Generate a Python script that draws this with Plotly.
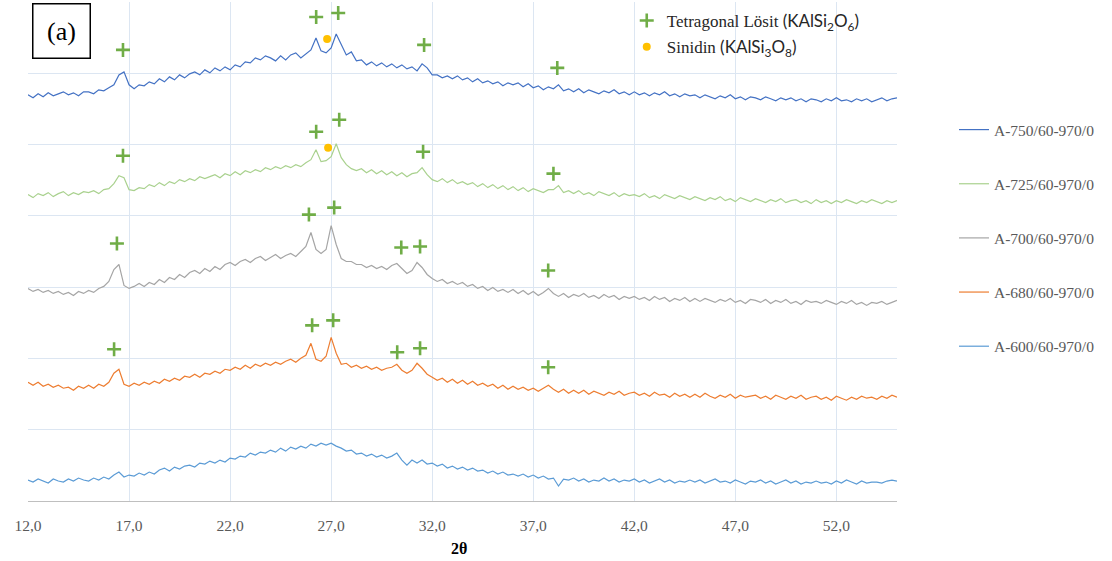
import plotly.graph_objects as go

# 2-theta sampling (degrees), 0.25 deg step, one row = 3 degrees
two_theta = [
    12.00, 12.25, 12.50, 12.75, 13.00, 13.25, 13.50, 13.75, 14.00, 14.25, 14.50, 14.75,
    15.00, 15.25, 15.50, 15.75, 16.00, 16.25, 16.50, 16.75, 17.00, 17.25, 17.50, 17.75,
    18.00, 18.25, 18.50, 18.75, 19.00, 19.25, 19.50, 19.75, 20.00, 20.25, 20.50, 20.75,
    21.00, 21.25, 21.50, 21.75, 22.00, 22.25, 22.50, 22.75, 23.00, 23.25, 23.50, 23.75,
    24.00, 24.25, 24.50, 24.75, 25.00, 25.25, 25.50, 25.75, 26.00, 26.25, 26.50, 26.75,
    27.00, 27.25, 27.50, 27.75, 28.00, 28.25, 28.50, 28.75, 29.00, 29.25, 29.50, 29.75,
    30.00, 30.25, 30.50, 30.75, 31.00, 31.25, 31.50, 31.75, 32.00, 32.25, 32.50, 32.75,
    33.00, 33.25, 33.50, 33.75, 34.00, 34.25, 34.50, 34.75, 35.00, 35.25, 35.50, 35.75,
    36.00, 36.25, 36.50, 36.75, 37.00, 37.25, 37.50, 37.75, 38.00, 38.25, 38.50, 38.75,
    39.00, 39.25, 39.50, 39.75, 40.00, 40.25, 40.50, 40.75, 41.00, 41.25, 41.50, 41.75,
    42.00, 42.25, 42.50, 42.75, 43.00, 43.25, 43.50, 43.75, 44.00, 44.25, 44.50, 44.75,
    45.00, 45.25, 45.50, 45.75, 46.00, 46.25, 46.50, 46.75, 47.00, 47.25, 47.50, 47.75,
    48.00, 48.25, 48.50, 48.75, 49.00, 49.25, 49.50, 49.75, 50.00, 50.25, 50.50, 50.75,
    51.00, 51.25, 51.50, 51.75, 52.00, 52.25, 52.50, 52.75, 53.00, 53.25, 53.50, 53.75,
    54.00, 54.25, 54.50, 54.75, 55.00,
]

# intensities (a.u., stacked with offsets as in the original figure)
a750 = [
    407, 404, 408, 405, 409, 406, 408, 410, 407, 409, 406, 410,
    410, 408, 412, 411, 414, 417, 427, 430, 417, 413, 417, 416,
    420, 418, 423, 420, 425, 422, 427, 424, 428, 430, 427, 432,
    429, 434, 431, 435, 432, 437, 435, 440, 439, 444, 442, 446,
    444, 441, 446, 442, 447, 449, 444, 448, 452, 464, 451, 449,
    454, 468, 457, 447, 450, 441, 442, 437, 440, 436, 439, 435,
    438, 434, 437, 433, 435, 431, 438, 434, 427, 427, 424, 426,
    423, 426, 422, 424, 420, 423, 419, 421, 418, 420, 416, 419,
    417, 419, 415, 418, 414, 416, 412, 415, 413, 417, 411, 413,
    410, 413, 409, 412, 410, 408, 411, 409, 412, 408, 410, 407,
    410, 407, 409, 406, 409, 407, 410, 406, 408, 405, 408, 406,
    407, 404, 407, 405, 403, 406, 404, 407, 403, 405, 402, 405,
    404, 402, 405, 403, 401, 404, 402, 404, 401, 403, 400, 403,
    402, 400, 403, 401, 404, 401, 402, 400, 403, 401, 403, 400,
    402, 404, 401, 403, 404,
]
a725 = [
    307, 304, 308, 306, 309, 305, 308, 310, 306, 309, 307, 310,
    309, 311, 308, 312, 313, 318, 326, 324, 312, 311, 314, 313,
    317, 315, 319, 316, 320, 318, 322, 320, 323, 321, 325, 323,
    325, 327, 324, 328, 326, 330, 327, 331, 329, 332, 330, 334,
    332, 335, 333, 336, 334, 337, 335, 339, 342, 352, 340, 341,
    345, 358, 344, 337, 333, 331, 333, 329, 332, 328, 331, 327,
    330, 326, 329, 325, 328, 329, 334, 327, 322, 320, 323, 319,
    322, 318, 320, 317, 319, 315, 318, 314, 317, 313, 316, 312,
    315, 311, 314, 310, 313, 311, 309, 312, 312, 316, 309, 311,
    308, 311, 307, 309, 306, 310, 308, 306, 309, 305, 308, 306,
    307, 305, 308, 304, 306, 303, 307, 305, 303, 306, 304, 302,
    305, 303, 301, 304, 302, 305, 301, 303, 300, 304, 302, 300,
    303, 301, 299, 302, 300, 303, 299, 301, 302, 299, 301, 298,
    302, 299, 301, 298, 301, 299, 302, 300, 298, 301, 299, 302,
    300, 298, 301, 299, 301,
]
a700 = [
    213, 210, 212, 209, 211, 208, 210, 207, 209, 206, 210, 208,
    211, 209, 213, 215, 220, 232, 237, 216, 213, 215, 218, 215,
    219, 217, 222, 219, 224, 222, 227, 224, 229, 231, 228, 233,
    230, 235, 232, 237, 239, 236, 240, 242, 239, 243, 245, 241,
    244, 247, 243, 246, 248, 245, 250, 255, 269, 252, 248, 252,
    276, 257, 243, 240, 240, 237, 237, 234, 236, 233, 235, 232,
    236, 238, 233, 228, 231, 239, 234, 227, 223, 220, 222, 218,
    220, 217, 219, 215, 217, 213, 215, 211, 214, 210, 212, 209,
    212, 208, 211, 207, 210, 206, 209, 213, 208, 205, 208, 204,
    207, 205, 208, 204, 206, 203, 207, 204, 206, 202, 205, 203,
    205, 202, 204, 201, 205, 202, 204, 200, 203, 201, 204, 200,
    203, 200, 203, 201, 199, 202, 200, 203, 199, 201, 198, 202,
    201, 199, 202, 198, 201, 199, 202, 198, 200, 197, 201, 199,
    200, 198, 201, 199, 197, 200, 198, 201, 197, 199, 196, 199,
    198, 200, 197, 199, 201,
]
a680 = [
    119, 116, 119, 115, 117, 114, 116, 113, 114, 111, 115, 113,
    116, 113, 117, 115, 119, 128, 132, 117, 115, 118, 116, 119,
    117, 120, 118, 122, 120, 123, 121, 125, 124, 127, 124, 128,
    127, 130, 128, 132, 131, 134, 132, 136, 133, 137, 135, 138,
    136, 139, 137, 140, 142, 139, 143, 146, 158, 142, 140, 145,
    164, 148, 137, 138, 134, 136, 133, 135, 132, 134, 131, 133,
    134, 137, 131, 128, 131, 138, 133, 127, 124, 121, 123, 119,
    122, 118, 121, 117, 120, 116, 118, 115, 117, 113, 116, 112,
    115, 112, 114, 111, 113, 110, 113, 116, 112, 109, 112, 108,
    111, 108, 111, 107, 110, 108, 106, 109, 107, 110, 106, 108,
    109, 106, 108, 105, 109, 106, 107, 104, 108, 105, 107, 104,
    107, 104, 108, 105, 103, 106, 104, 107, 103, 106, 104, 105,
    106, 103, 105, 102, 106, 104, 102, 105, 103, 106, 102, 104,
    105, 102, 104, 101, 105, 103, 101, 104, 102, 105, 103, 104,
    102, 105, 103, 106, 104,
]
a600 = [
    21, 19, 22, 20, 18, 22, 20, 19, 22, 20, 23, 21,
    20, 23, 21, 24, 22, 26, 29, 24, 26, 25, 28, 26,
    29, 27, 31, 33, 30, 34, 32, 35, 36, 34, 38, 37,
    40, 38, 41, 39, 43, 42, 45, 44, 48, 46, 49, 48,
    51, 49, 53, 50, 54, 52, 55, 53, 57, 55, 58, 56,
    58, 55, 53, 50, 51, 47, 48, 45, 47, 44, 46, 43,
    45, 48, 41, 36, 41, 38, 41, 37, 38, 35, 37, 33,
    35, 32, 34, 31, 33, 30, 31, 28, 30, 27, 29, 26,
    27, 25, 27, 24, 26, 23, 25, 22, 23, 15, 22, 21,
    23, 20, 22, 19, 21, 20, 23, 20, 22, 19, 21, 20,
    22, 19, 21, 18, 20, 22, 19, 21, 18, 20, 19, 21,
    19, 21, 18, 20, 22, 19, 20, 18, 21, 19, 17, 20,
    19, 21, 18, 20, 17, 19, 21, 18, 20, 17, 19, 18,
    20, 18, 19, 17, 20, 18, 21, 19, 17, 20, 18, 19,
    19, 18, 20, 21, 20,
]

series_names = ["A-750/60-970/0", "A-725/60-970/0", "A-700/60-970/0",
                "A-680/60-970/0", "A-600/60-970/0"]
series_values = [a750, a725, a700, a680, a600]
series_colors = ["#4472C4", "#A9D18E", "#A5A5A5", "#ED7D31", "#5B9BD5"]

# phase identification marks
losit_x = [16.70, 26.26, 27.35, 31.60, 38.19,
           16.70, 26.26, 27.40, 31.55, 38.00,
           16.40, 25.90, 27.15, 30.47, 31.40, 37.74,
           16.26, 26.06, 27.10, 30.27, 31.40, 37.74]
losit_y = [452, 485, 489, 457, 434,
           346, 370, 382, 350, 328,
           258, 287, 294, 254, 255, 231,
           152, 176, 181, 149, 153, 134]
sinidin_x = [26.80, 26.85]
sinidin_y = [463, 354]

x_ticks = [12, 17, 22, 27, 32, 37, 42, 47, 52]

for v in series_values:
    assert len(v) == len(two_theta), (len(v), len(two_theta))

fig = go.Figure()

for name, vals, col in zip(series_names, series_values, series_colors):
    fig.add_trace(go.Scatter(
        x=two_theta, y=vals, mode="lines", name=name,
        line=dict(color=col, width=1.2), legend="legend", legendgroup=name,
    ))

sans_span = '<span style="font-family:Lato">'
fig.add_trace(go.Scatter(
    x=losit_x, y=losit_y, mode="markers",
    name='Tetragonal Lösit ' + sans_span + '(KAlSi<sub>2</sub>O<sub>6</sub>)</span>',
    marker=dict(symbol="cross-thin", size=10, color="#70AD47",
                line=dict(color="#70AD47", width=2.6)),
    legend="legend2", legendgroup="losit",
))
fig.add_trace(go.Scatter(
    x=sinidin_x, y=sinidin_y, mode="markers",
    name='Sinidin ' + sans_span + '(KAlSi<sub>3</sub>O<sub>8</sub>)</span>',
    marker=dict(symbol="circle", size=8, color="#FFC000"),
    legend="legend2", legendgroup="sinidin",
))

grid_col = "#DCE6F2"

fig.update_layout(
    width=1112, height=561,
    margin=dict(l=28, r=215, t=2, b=60),
    paper_bgcolor="white", plot_bgcolor="white",
    separators=",.",
    xaxis=dict(
        range=[12, 55], tickmode="array", tickvals=x_ticks, tickformat=".1f",
        showgrid=True, gridcolor=grid_col, gridwidth=1,
        showline=True, linecolor="#BFBFBF", linewidth=1.3,
        zeroline=False, ticks="", ticklabelstandoff=10,
        tickfont=dict(family="Liberation Serif", size=15.5, color="#595959"),
    ),
    yaxis=dict(
        range=[0, 500.01], tick0=0, dtick=500 / 7,
        showgrid=True, gridcolor=grid_col, gridwidth=1,
        showticklabels=False, zeroline=False, showline=False, ticks="",
    ),
    legend=dict(
        x=1.0656, xanchor="left", y=0.7775, yanchor="top",
        font=dict(family="Liberation Serif", size=15.5, color="#595959"),
        tracegroupgap=31, bgcolor="rgba(0,0,0,0)",
    ),
    legend2=dict(
        x=0.689, xanchor="left", y=0.998, yanchor="top",
        font=dict(family="Liberation Serif", size=17, color="#262626"),
        tracegroupgap=1, bgcolor="rgba(0,0,0,0)",
    ),
    annotations=[
        dict(text="<b>2θ</b>", xref="paper", yref="paper", x=0.496, y=-0.0942,
             xanchor="center", yanchor="middle", showarrow=False,
             font=dict(family="Liberation Serif", size=16, color="#000000")),
        dict(text="(a)", xref="paper", yref="paper", x=0.0046, y=0.998,
             xanchor="left", yanchor="top", showarrow=False,
             width=56, height=53, borderwidth=1.5, bordercolor="#000000",
             borderpad=0, bgcolor="white",
             font=dict(family="Liberation Serif", size=26, color="#000000")),
    ],
)

fig.write_html("out.html")
